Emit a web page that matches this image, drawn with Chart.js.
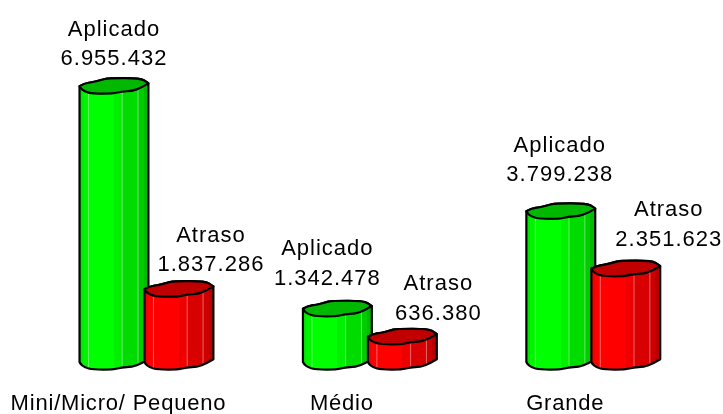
<!DOCTYPE html>
<html>
<head>
<meta charset="utf-8">
<script src="https://cdn.jsdelivr.net/npm/chart.js@4"></script>
<style>
  html, body { margin: 0; padding: 0; background: #fff; }
  #wrap { width: 723px; height: 414px; }
</style>
</head>
<body>
<div id="wrap"><canvas id="chart" width="723" height="414"></canvas></div>
<script>
const categories = ["Mini/Micro/ Pequeno", "Médio", "Grande"];
const aplicado = [6955432, 1342478, 3799238];
const atraso = [1837286, 636380, 2351623];

// where each value label sits relative to the top of its bar
const labelShiftX = { Aplicado: [0, -10, -1], Atraso: [32, 36, 43] };
const labelGapY = { Aplicado: [27, 30, 36], Atraso: [24, 23, 29] };

const FONT = '22px "Liberation Sans", Arial, sans-serif';
const formatValue = v => v.toLocaleString("de-DE");

// outline of the wobbly rim: [fraction of bar width, px from rim level]
const rimBack = [[0, 0], [0.07, -2.8], [0.195, -3.9], [0.32, -6.2], [0.415, -8], [0.88, -8], [0.985, -3.6], [1, -2.7]];
const rimFront = [[1, -2.7], [0.9, 1.5], [0.76, 5], [0.61, 5.3], [0.49, 7.6], [0.195, 7.6], [0.07, 5.4], [0.01, 1.6], [0, 0]];

const greenBands = [[0, "#00e800"], [0.05, "#00f400"], [0.13, "#00ff00"], [0.5, "#00f000"], [0.62, "#00dc00"], [0.85, "#00cc00"], [0.93, "#00bc00"]];
const redBands = [[0, "#f00000"], [0.05, "#ff0000"], [0.5, "#ee0000"], [0.62, "#d80000"], [0.85, "#cc0000"], [0.93, "#b80000"]];

// runs a smoothed line through the outline points
function curve(ctx, pts, x, w, y, start) {
  const p = pts.map(a => [x + a[0] * w, y + a[1]]);
  if (start) ctx.moveTo(p[0][0], p[0][1]);
  else ctx.lineTo(p[0][0], p[0][1]);
  for (let i = 1; i < p.length - 2; i++) {
    ctx.quadraticCurveTo(p[i][0], p[i][1], (p[i][0] + p[i + 1][0]) / 2, (p[i][1] + p[i + 1][1]) / 2);
  }
  const n = p.length - 1;
  ctx.quadraticCurveTo(p[n - 1][0], p[n - 1][1], p[n][0], p[n][1]);
}

function drawColumn(ctx, bar, bands, topColor) {
  const w = bar.width;
  const x = bar.x - w / 2;
  const top = bar.y;
  const base = bar.base;

  const body = () => {
    ctx.beginPath();
    curve(ctx, rimBack, x, w, top, true);
    curve(ctx, rimFront, x, w, base, false);
    ctx.closePath();
  };

  ctx.save();
  body();
  ctx.clip();
  const grad = ctx.createLinearGradient(x, 0, x + w, 0);
  bands.forEach((b, i) => {
    if (i > 0) grad.addColorStop(b[0], bands[i - 1][1]);
    grad.addColorStop(b[0], b[1]);
  });
  ctx.fillStyle = grad;
  ctx.fillRect(x - 2, top - 12, w + 4, base - top + 24);
  // thin light seams down the column
  ctx.strokeStyle = "rgba(255,255,255,0.4)";
  ctx.lineWidth = 1;
  [0.13, 0.62, 0.85].forEach(f => {
    ctx.beginPath();
    ctx.moveTo(x + f * w, top);
    ctx.lineTo(x + f * w, base + 8);
    ctx.stroke();
  });
  ctx.restore();

  ctx.strokeStyle = "#000";
  ctx.lineWidth = 2.2;
  ctx.lineJoin = "round";
  body();
  ctx.stroke();

  ctx.beginPath();
  curve(ctx, rimBack, x, w, top, true);
  curve(ctx, rimFront, x, w, top, false);
  ctx.closePath();
  ctx.fillStyle = topColor;
  ctx.fill();
  ctx.stroke();
}

const columnPlugin = {
  id: "columns",
  beforeDraw(chart) {
    chart.ctx.letterSpacing = "0.8px";
  },
  afterDatasetsDraw(chart) {
    const ctx = chart.ctx;
    chart.data.datasets.forEach((ds, d) => {
      chart.getDatasetMeta(d).data.forEach(bar => {
        drawColumn(ctx, bar, ds.bands, ds.topColor);
      });
    });
    ctx.save();
    ctx.letterSpacing = "1px";
    ctx.font = FONT;
    ctx.fillStyle = "#000";
    ctx.textAlign = "center";
    ctx.textBaseline = "middle";
    chart.data.datasets.forEach((ds, d) => {
      chart.getDatasetMeta(d).data.forEach((bar, i) => {
        const x = bar.x + labelShiftX[ds.label][i];
        const y = bar.y - labelGapY[ds.label][i];
        ctx.fillText(formatValue(ds.data[i]), x, y);
        ctx.fillText(ds.label, x, y - 29.5);
      });
    });
    ctx.restore();
  }
};

new Chart(document.getElementById("chart"), {
  type: "bar",
  data: {
    labels: categories,
    datasets: [
      { label: "Aplicado", data: aplicado, backgroundColor: "transparent", bands: greenBands, topColor: "#00b800" },
      { label: "Atraso", data: atraso, backgroundColor: "transparent", bands: redBands, topColor: "#c00000" }
    ]
  },
  options: {
    responsive: false,
    animation: false,
    categoryPercentage: 0.5817,
    barPercentage: 1.06,
    layout: { padding: { left: 34.75, right: 18, top: 5, bottom: 0 } },
    plugins: { legend: { display: false }, tooltip: { enabled: false } },
    scales: {
      x: {
        afterFit(scale) { scale.height = 52; },
        grid: { display: false, drawTicks: false },
        border: { display: false },
        ticks: {
          color: "#000",
          padding: 29,
          labelOffset: -28,
          maxRotation: 0,
          autoSkip: false,
          font: { family: '"Liberation Sans", Arial, sans-serif', size: 22 }
        }
      },
      y: { display: false, min: 0, max: 9000000 }
    }
  },
  plugins: [columnPlugin]
});
</script>
</body>
</html>
